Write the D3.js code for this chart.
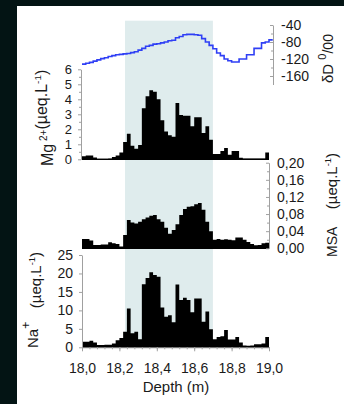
<!DOCTYPE html>
<html>
<head>
<meta charset="utf-8">
<script src="https://cdn.jsdelivr.net/npm/d3@7"></script>
<style>
  html, body { margin: 0; padding: 0; background: #031414; }
  svg { display: block; }
  text { font-family: "Liberation Sans", Arial, sans-serif; fill: #1a1a1a; }
</style>
</head>
<body>
<svg id="chart" width="344" height="404"></svg>
<script>
// depth of each sample bin (m), 2 cm bins
const binStart = [18.00, 18.02, 18.04, 18.06, 18.08, 18.10, 18.12, 18.14, 18.16, 18.18,
                  18.20, 18.22, 18.24, 18.26, 18.28, 18.30, 18.32, 18.34, 18.36, 18.38,
                  18.40, 18.42, 18.44, 18.46, 18.48, 18.50, 18.52, 18.54, 18.56, 18.58,
                  18.60, 18.62, 18.64, 18.66, 18.68, 18.70, 18.72, 18.74, 18.76, 18.78,
                  18.80, 18.82, 18.84, 18.86, 18.88, 18.90, 18.92, 18.94, 18.96, 18.98];
const binWidth = 0.02;

const mgValues = [0.20, 0.25, 0.25, 0.12, 0.04, 0.04, 0.04, 0.05, 0.15, 0.25,
                  0.45, 1.15, 1.70, 0.90, 0.70, 0.95, 3.40, 4.20, 4.60, 4.50,
                  4.00, 2.60, 1.85, 1.60, 1.50, 3.75, 2.95, 2.90, 2.90, 2.20,
                  2.80, 2.80, 1.75, 2.20, 1.30, 0.35, 0.35, 0.55, 0.75, 0.30,
                  0.55, 0.55, 0.10, 0.05, 0.05, 0.05, 0.05, 0.05, 0.05, 0.45];

const msaValues = [0.022, 0.022, 0.018, 0.008, 0.008, 0.009, 0.009, 0.014, 0.012, 0.010,
                   0.004, 0.031, 0.066, 0.060, 0.058, 0.062, 0.068, 0.072, 0.076, 0.078,
                   0.068, 0.062, 0.048, 0.034, 0.043, 0.056, 0.078, 0.092, 0.097, 0.098,
                   0.103, 0.106, 0.090, 0.062, 0.040, 0.020, 0.022, 0.020, 0.021, 0.020,
                   0.019, 0.025, 0.025, 0.020, 0.015, 0.010, 0.007, 0.008, 0.012, 0.013];

const naValues = [1.5, 1.5, 1.8, 1.3, 0.6, 0.6, 0.7, 0.7, 1.0, 1.9,
                  2.5, 4.2, 10.5, 3.8, 4.2, 2.2, 17.1, 18.8, 20.3, 19.6,
                  19.1, 10.8, 8.3, 8.7, 6.8, 17.0, 12.8, 13.4, 12.8, 9.5,
                  13.2, 13.2, 6.9, 9.7, 4.9, 2.2, 2.8, 3.0, 4.7, 2.1,
                  2.1, 2.8, 1.3, 0.5, 0.4, 0.5, 0.8, 0.8, 1.0, 2.8];

// deuterium profile, one value per bin plus the bottom at 19.00 m
const dDepth = binStart.concat([19.00]);
const dDValues = [-132, -130, -128, -125, -122, -119, -117, -114, -112, -110,
                  -109, -108, -107, -105, -103, -99, -95, -90, -88, -85,
                  -84, -82, -80, -77, -76, -70, -67, -63, -62, -62,
                  -63, -64, -72, -80, -88, -96, -106, -112, -120, -124,
                  -127, -127, -120, -120, -110, -110, -95, -95, -82, -80, -75];

const depthTicks = [18.0, 18.2, 18.4, 18.6, 18.8, 19.0];
const mgTicks = [0, 1, 2, 3, 4, 5, 6];
const msaTicks = [0, 0.04, 0.08, 0.12, 0.16, 0.20];
const naTicks = [0, 5, 10, 15, 20, 25];
const dDTicks = [-40, -80, -120, -160];
const warmPhase = [18.23, 18.70];

const svg = d3.select("#chart");
const axisGrey = "#a0a0a0";
const comma = d3.formatLocale({decimal: ",", thousands: ".", grouping: [3], currency: ["", ""]});

// page background
svg.append("rect").attr("width", 344).attr("height", 404).attr("fill", "#031414");
svg.append("rect").attr("x", 17).attr("y", 6).attr("width", 327).attr("height", 398).attr("fill", "#ffffff");

const x = d3.scaleLinear().domain([18, 19]).range([82, 269]);
const yDD = d3.scaleLinear().domain([-180, -40]).range([84.5, 25]);
const yMg = d3.scaleLinear().domain([0, 6]).range([159.3, 69.3]);
const yMsa = d3.scaleLinear().domain([0, 0.2]).range([248.3, 162.7]);
const yNa = d3.scaleLinear().domain([0, 25]).range([347.3, 255]);

// shaded interval
svg.append("rect")
  .attr("x", x(warmPhase[0]))
  .attr("y", 20.7)
  .attr("width", x(warmPhase[1]) - x(warmPhase[0]))
  .attr("height", yNa(0) - 20.7)
  .attr("fill", "#dfeced");

function styleAxis(g, size) {
  g.attr("font-size", null).attr("font-family", null);
  g.select(".domain").attr("stroke", axisGrey);
  g.selectAll(".tick line").attr("stroke", axisGrey);
  g.selectAll(".tick text").attr("font-size", size).attr("fill", "#1a1a1a")
    .style("font-family", '"Liberation Sans", Arial, sans-serif');
}

function minorTicks(g) {
  g.select(".domain").remove();
  g.selectAll("text").remove();
  g.selectAll("line").attr("stroke", axisGrey);
}

function drawBars(values, y) {
  const pts = binStart.map((d, i) => [d, values[i]]);
  pts.push([binStart[binStart.length - 1] + binWidth, values[values.length - 1]]);
  const area = d3.area()
    .x(d => x(d[0]))
    .y0(y(0))
    .y1(d => y(d[1]))
    .curve(d3.curveStepAfter);
  svg.append("path").datum(pts).attr("d", area).attr("fill", "#000");
  svg.append("line")
    .attr("x1", x(18)).attr("x2", x(19))
    .attr("y1", y(0)).attr("y2", y(0))
    .attr("stroke", "#000").attr("stroke-width", 1.2);
}

drawBars(mgValues, yMg);
drawBars(msaValues, yMsa);
drawBars(naValues, yNa);

// deuterium line
const dPts = dDepth.map((d, i) => [d, dDValues[i]]);
dPts.push([19.02, dDValues[dDValues.length - 1]]);
svg.append("path")
  .datum(dPts)
  .attr("d", d3.line().x(d => x(d[0])).y(d => yDD(d[1])).curve(d3.curveStepAfter))
  .attr("fill", "none")
  .attr("stroke", "#2f3ff5")
  .attr("stroke-width", 1.6);

// axes
const gDD = svg.append("g").attr("transform", "translate(273,0)")
  .call(d3.axisRight(yDD).tickValues(dDTicks).tickSizeInner(-3).tickSizeOuter(0).tickPadding(8)
    .tickFormat(d => String(d)));
styleAxis(gDD, 14);
svg.append("g").attr("transform", "translate(273,0)")
  .call(d3.axisRight(yDD).tickValues([-60, -100, -140]).tickSizeInner(-2).tickSizeOuter(0))
  .call(minorTicks);

const gMg = svg.append("g").attr("transform", "translate(81,0)")
  .call(d3.axisLeft(yMg).tickValues(mgTicks).tickSize(3).tickSizeOuter(0).tickPadding(6).tickFormat(d => String(d)));
styleAxis(gMg, 13);
svg.append("g").attr("transform", "translate(81,0)")
  .call(d3.axisLeft(yMg).tickValues(mgTicks.slice(0, -1).map(d => d + 0.5)).tickSize(2))
  .call(minorTicks);

const gMsa = svg.append("g").attr("transform", "translate(269,0)")
  .call(d3.axisRight(yMsa).tickValues(msaTicks).tickSizeInner(-3).tickSizeOuter(0).tickPadding(8)
    .tickFormat(comma.format(".2f")));
styleAxis(gMsa, 14);
svg.append("g").attr("transform", "translate(269,0)")
  .call(d3.axisRight(yMsa).tickValues(msaTicks.slice(0, -1).map(d => d + 0.02)).tickSizeInner(-2))
  .call(minorTicks);

const gNa = svg.append("g").attr("transform", "translate(82,0)")
  .call(d3.axisLeft(yNa).tickValues(naTicks).tickSize(3).tickSizeOuter(0).tickPadding(6).tickFormat(d => String(d)));
styleAxis(gNa, 14);

const gX = svg.append("g").attr("transform", `translate(0,${yNa(0)})`)
  .call(d3.axisBottom(x).tickValues(depthTicks).tickSize(4).tickSizeOuter(0).tickPadding(11.5)
    .tickFormat(comma.format(".1f")));
styleAxis(gX, 14);
svg.append("g").attr("transform", `translate(0,${yNa(0)})`)
  .call(d3.axisBottom(x).tickValues(d3.range(0, 26).map(i => 18 + i * 0.04)).tickSize(2))
  .call(minorTicks);

// axis titles
svg.append("text").attr("x", 176).attr("y", 392).attr("text-anchor", "middle")
  .attr("font-size", 15).text("Depth (m)");

function unitTspans(t, size) {
  t.append("tspan").attr("font-size", size).text("(µeq.L");
  t.append("tspan").attr("font-size", size * 0.62).attr("dy", -size * 0.4).text("-1");
  t.append("tspan").attr("font-size", size).attr("dy", size * 0.4).text(")");
}

const tMg = svg.append("text").attr("transform", "translate(53,166) rotate(-90)")
  .attr("text-anchor", "start");
tMg.append("tspan").attr("font-size", 16).text("Mg");
tMg.append("tspan").attr("font-size", 10).attr("dy", -6).text(" 2+");
tMg.append("tspan").attr("dy", 6).attr("font-size", 16).text("");
unitTspans(tMg, 16);

const tNa = svg.append("text").attr("transform", "translate(38,348) rotate(-90)")
  .attr("text-anchor", "start");
tNa.append("tspan").attr("font-size", 15).text("Na");
tNa.append("tspan").attr("font-size", 12).attr("dy", -8).text("+");
const tNa2 = svg.append("text").attr("transform", "translate(41,252) rotate(-90)")
  .attr("text-anchor", "end");
unitTspans(tNa2, 15);

svg.append("text").attr("transform", "translate(337,257) rotate(-90)")
  .attr("text-anchor", "start").attr("font-size", 14).text("MSA");
const tMsa2 = svg.append("text").attr("transform", "translate(337,153) rotate(-90)")
  .attr("text-anchor", "end");
unitTspans(tMsa2, 15);

const tDD = svg.append("text").attr("transform", "translate(333,83) rotate(-90)")
  .attr("text-anchor", "start");
tDD.append("tspan").attr("font-size", 15).text("δD ");
tDD.append("tspan").attr("font-size", 11).attr("dy", -7).text("0");
tDD.append("tspan").attr("font-size", 14).attr("dy", 7).text("/");
tDD.append("tspan").attr("font-size", 14).text("00");
</script>
</body>
</html>
